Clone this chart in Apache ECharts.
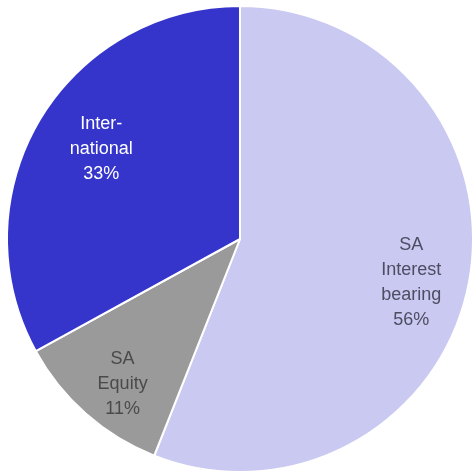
<!DOCTYPE html>
<html>
<head>
<meta charset="utf-8">
<script src="https://cdn.jsdelivr.net/npm/echarts@6/dist/echarts.min.js"></script>
<style>
  html, body { margin: 0; padding: 0; background: #fff; }
  #chart { width: 472px; height: 476px; }
</style>
</head>
<body>
<div id="chart"></div>
<script>
// slices, clockwise from 12 o'clock
var categories = ["SA\nInterest\nbearing", "SA\nEquity", "Inter-\nnational"];
var shares = [56, 11, 33];
var colors = ["#c9c9f1", "#9a9a9a", "#3535cc"];
var textColors = ["#4d4d62", "#4a4a4a", "#ffffff"];

var chart = echarts.init(document.getElementById("chart"));

var pieData = categories.map(function (c, i) {
  return { name: c, value: shares[i], itemStyle: { color: colors[i] } };
});
var labelData = categories.map(function (c, i) {
  return {
    name: c, value: shares[i],
    label: { color: textColors[i] }
  };
});

// small label nudges (px) to sit where the original had them
var nudgeX = [-3, 0, 14];
var nudgeY = [10, 12, 0];

chart.setOption({
  animation: false,
  series: [
    {
      type: "pie",
      center: [240, 239],
      radius: [0, 233],
      startAngle: 90,
      clockwise: true,
      silent: true,
      itemStyle: { borderColor: "#fff", borderWidth: 2 },
      label: { show: false },
      labelLine: { show: false },
      data: pieData
    },
    {
      // transparent ring so "inside" labels sit at ~3/4 radius
      type: "pie",
      center: [240, 239],
      radius: [116, 233],
      startAngle: 90,
      clockwise: true,
      silent: true,
      itemStyle: { color: "transparent" },
      label: {
        show: true,
        position: "inside",
        fontFamily: "Arial, 'Liberation Sans', sans-serif",
        fontSize: 18,
        lineHeight: 25,
        align: "center",
        formatter: function (p) { return p.name + "\n" + p.value + "%"; }
      },
      labelLayout: function (p) {
        return { dx: nudgeX[p.dataIndex], dy: nudgeY[p.dataIndex] };
      },
      labelLine: { show: false },
      data: labelData
    }
  ]
});
</script>
</body>
</html>
